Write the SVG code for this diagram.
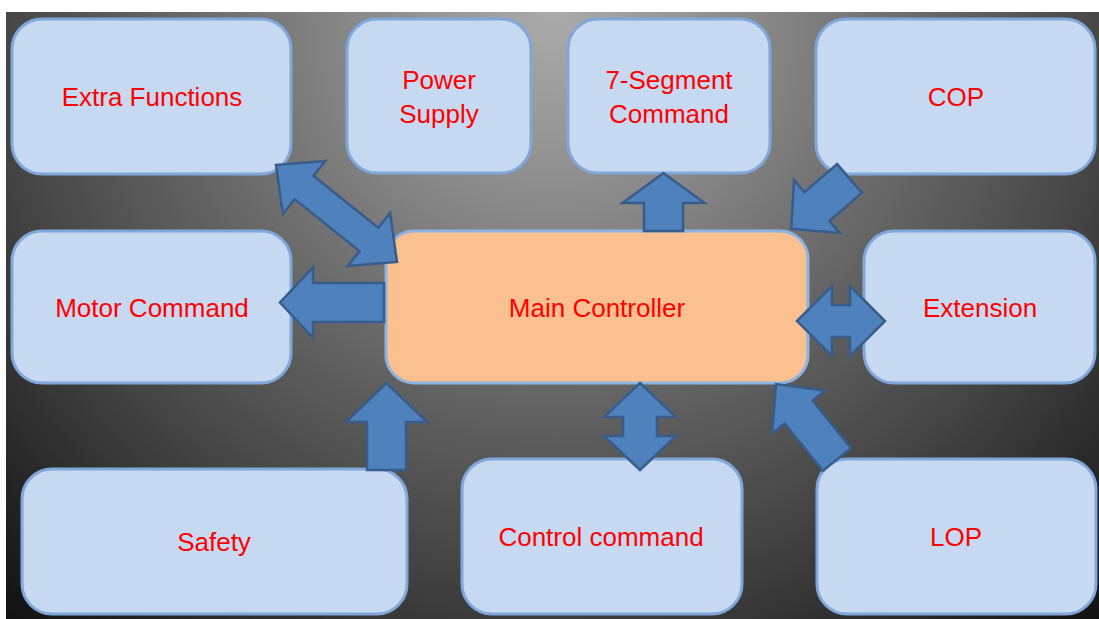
<svg xmlns="http://www.w3.org/2000/svg" width="1099" height="619" viewBox="0 0 1099 619">
  <defs>
    <radialGradient id="bgGrad" gradientUnits="userSpaceOnUse" cx="555" cy="12" r="820">
      <stop offset="0" stop-color="#ababab"/>
      <stop offset="0.25" stop-color="#888888"/>
      <stop offset="0.5" stop-color="#606060"/>
      <stop offset="0.68" stop-color="#454545"/>
      <stop offset="1" stop-color="#111111"/>
    </radialGradient>
    <style>
      .box { fill: #c6d9f1; stroke: #7fa7da; stroke-width: 3; }
      .main { fill: #fac090; stroke: #8db3e2; stroke-width: 3; }
      .lbl { font-family: "Liberation Sans", Arial, sans-serif; font-size: 26px; fill: #ff0000; text-anchor: middle; }
      .arrow { fill: #4f81bd; stroke: #385d8a; stroke-width: 2.5; stroke-linejoin: miter; }
    </style>
  </defs>

  <rect x="0" y="0" width="1099" height="619" fill="#ffffff"/>
  <rect x="6" y="12" width="1093" height="607" fill="url(#bgGrad)"/>

  <g id="extra-functions">
    <rect class="box" x="12" y="19" width="279" height="155" rx="30"/>
    <text class="lbl" x="152" y="106">Extra Functions</text>
  </g>
  <g id="power-supply">
    <rect class="box" x="347" y="19" width="184" height="154" rx="30"/>
    <text class="lbl" x="439" y="89">Power</text>
    <text class="lbl" x="439" y="123">Supply</text>
  </g>
  <g id="seven-segment">
    <rect class="box" x="568" y="19" width="202" height="154" rx="30"/>
    <text class="lbl" x="669" y="89">7-Segment</text>
    <text class="lbl" x="669" y="123">Command</text>
  </g>
  <g id="cop">
    <rect class="box" x="816" y="19" width="279" height="155" rx="30"/>
    <text class="lbl" x="956" y="106">COP</text>
  </g>
  <g id="motor-command">
    <rect class="box" x="12" y="231" width="279" height="152" rx="30"/>
    <text class="lbl" x="152" y="317">Motor Command</text>
  </g>
  <g id="main-controller">
    <rect class="main" x="386" y="231" width="422" height="152" rx="28"/>
    <text class="lbl" x="597" y="317">Main Controller</text>
  </g>
  <g id="extension">
    <rect class="box" x="864" y="231" width="231" height="152" rx="30"/>
    <text class="lbl" x="980" y="317">Extension</text>
  </g>
  <g id="safety">
    <rect class="box" x="22" y="469" width="385" height="145" rx="30"/>
    <text class="lbl" x="214" y="551">Safety</text>
  </g>
  <g id="control-command">
    <rect class="box" x="462" y="459" width="280" height="155" rx="30"/>
    <text class="lbl" x="601" y="546">Control command</text>
  </g>
  <g id="lop">
    <rect class="box" x="817" y="459" width="279" height="155" rx="30"/>
    <text class="lbl" x="956" y="546">LOP</text>
  </g>

  <g id="connectors">
    <!-- Extra Functions <-> Main Controller -->
    <polygon class="arrow" transform="translate(276,165) rotate(38.7)" points="0,0 36,-34 36,-15 119,-15 119,-34 155,0 119,34 119,15 36,15 36,34"/>
    <!-- Main Controller -> Motor Command -->
    <polygon class="arrow" transform="translate(384,302.5) rotate(180)" points="0,-19.5 71,-19.5 71,-35 104,0 71,35 71,19.5 0,19.5"/>
    <!-- Main Controller -> 7-Segment Command -->
    <polygon class="arrow" transform="translate(663.5,231) rotate(-90)" points="0,-19.5 28,-19.5 28,-41 58,0 28,41 28,19.5 0,19.5"/>
    <!-- COP -> Main Controller -->
    <polygon class="arrow" transform="translate(849.5,178.5) rotate(139.2)" points="0,-19 43,-19 43,-35 77,0 43,35 43,19 0,19"/>
    <!-- Main Controller <-> Extension -->
    <polygon class="arrow" transform="translate(797,321)" points="0,0 35,-35 35,-16 53,-16 53,-35 88,0 53,35 53,16 35,16 35,35"/>
    <!-- Main Controller <-> Control command -->
    <polygon class="arrow" transform="translate(640,383) rotate(90)" points="0,0 34,-36 34,-17 53,-17 53,-36 87,0 53,36 53,17 34,17 34,36"/>
    <!-- LOP -> Main Controller -->
    <polygon class="arrow" transform="translate(837,459.5) rotate(-129)" points="0,-18 61,-18 61,-34 97,0 61,34 61,18 0,18"/>
    <!-- Safety -> Main Controller -->
    <polygon class="arrow" transform="translate(386.5,470) rotate(-90)" points="0,-19.5 48,-19.5 48,-40.5 87,0 48,40.5 48,19.5 0,19.5"/>
  </g>
</svg>
